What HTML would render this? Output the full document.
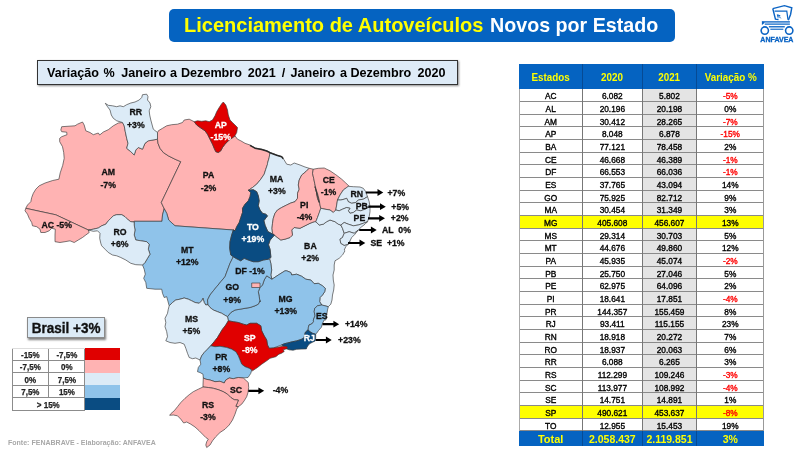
<!DOCTYPE html>
<html><head><meta charset="utf-8">
<style>
html,body{margin:0;padding:0;}
body{width:800px;height:450px;background:#fff;position:relative;overflow:hidden;font-family:"Liberation Sans",sans-serif;color:#000;}
.abs{position:absolute;}
#title{left:169px;top:9px;width:506px;height:33px;background:#0563c1;border-radius:5px;color:#fff;font-weight:bold;font-size:20.6px;line-height:32px;white-space:nowrap;}
#title span{position:absolute;left:14.3px;top:0;transform-origin:0 50%;transform:scaleX(0.966);}
#title b{color:#ffff00;}
#sub{left:37px;top:60px;width:419px;height:23px;background:#deebf7;border:1px solid #333;box-shadow:1px 1px 2px rgba(0,0,0,.45);font-weight:bold;font-size:12.6px;line-height:25px;white-space:pre;}
#sub span{position:absolute;top:0;}
#thead{left:519px;top:64px;width:245px;height:25.3px;background:#0563c1;}
#thead span{position:absolute;top:0;height:25.3px;line-height:26px;text-align:center;color:#ffff00;font-weight:bold;font-size:10.6px;transform:scaleX(0.93);}
.c1{left:0;width:63.4px;}
.c2{left:63.4px;width:59.9px;}
.c3{left:123.3px;width:54.3px;}
.c4{left:177.6px;width:67.4px;}
.r{position:absolute;left:519px;width:245px;height:12.67px;font-size:8.3px;}
.r span{position:absolute;top:0;height:100%;text-align:center;box-sizing:border-box;border-bottom:1px solid #8a8a8a;-webkit-text-stroke:0.35px currentColor;}
.r .c3{background:#e4e4e4;}
.r.hl span{background:#ffff00;}
.neg{color:#ff0000;}
.vl{position:absolute;width:1px;background:#777;top:89px;height:342px;}
.vb{position:absolute;width:1px;background:#064a94;}
#tot{left:519px;top:431.3px;width:245px;height:14.7px;background:#0563c1;}
#tot span{position:absolute;top:0;height:14.7px;line-height:16.2px;text-align:center;color:#ffff00;font-weight:bold;font-size:10.5px;}
#tot .c1{font-size:11px;}
#src{left:8.3px;top:437.8px;font-size:7.6px;line-height:9px;font-weight:bold;color:#a8a8a8;white-space:nowrap;transform-origin:0 0;transform:scaleX(0.925);}

#bra{left:27px;top:316.5px;width:76px;height:19px;background:#dcebf7;border:1px solid #8a8a8a;box-shadow:1px 1.5px 2px rgba(0,0,0,.5);font-weight:bold;font-size:14.6px;line-height:20.6px;text-align:center;white-space:nowrap;color:#111;}
#bra span{display:inline-block;transform:scaleX(0.925);-webkit-text-stroke:0.35px #111;}
#leg{left:12px;top:347.5px;width:108.3px;height:62.5px;}
#leg .t{position:absolute;height:12.5px;font-weight:bold;font-size:9px;line-height:14px;text-align:center;color:#222;transform:scaleX(0.89);-webkit-text-stroke:0.25px #222;}
#leg .s{position:absolute;left:72.5px;width:35.8px;height:12.5px;}
#leg i{position:absolute;background:#8c8c8c;}
</style></head><body><div id="wrap" style="position:absolute;left:0;top:0;width:800px;height:450px;will-change:transform;">
<div id="title" class="abs"><span style="left:15px;transform:scaleX(0.9715);color:#ffff00">Licenciamento de Autoveículos</span><span style="left:321.3px;transform:scaleX(0.955)">Novos por Estado</span></div>
<div id="sub" class="abs"><span style="left:9.1px">Variação</span><span style="left:65.5px">%</span><span style="left:83.3px">Janeiro</span><span style="left:132.0px">a</span><span style="left:143.0px">Dezembro</span><span style="left:209.8px">2021</span><span style="left:243.7px">/</span><span style="left:252.5px">Janeiro</span><span style="left:302.0px">a</span><span style="left:312.4px">Dezembro</span><span style="left:379.5px">2020</span></div>
<svg class="abs" style="left:0;top:0" width="800" height="450" viewBox="0 0 800 450">
<g stroke="#383838" stroke-width="0.65" stroke-linejoin="round">
<path d="M61.7,126.7 75.0,125.8 77.5,124.2 82.5,122.0 84.2,125.0 85.8,130.8 90.0,132.5 93.3,134.7 98.3,133.0 99.7,135.0 103.3,132.0 108.3,129.7 113.3,125.8 118.3,123.0 122.5,122.5 124.2,125.8 125.3,131.7 126.7,138.3 128.0,143.3 126.7,148.3 130.8,151.7 134.2,155.0 135.8,150.0 138.3,147.5 142.5,149.2 145.0,143.3 148.3,140.8 157.5,139.2 157.5,139.2 158.0,143.3 160.0,148.3 163.3,152.5 168.3,155.8 175.0,159.2 180.8,161.7 161.3,202.5 164.2,208.7 162.5,215.0 162.0,221.3 134.2,221.3 134.2,222.0 130.8,221.7 128.3,220.0 125.0,216.7 121.7,214.7 116.7,214.7 113.3,215.8 110.8,218.3 108.3,220.8 105.8,224.2 101.7,225.8 98.3,228.0 93.3,229.2 88.3,230.0 72.0,222.4 55.8,214.8 40.0,211.4 25.8,208.3 27.5,205.0 30.8,201.7 31.7,197.5 33.3,193.3 35.8,189.2 39.2,185.8 45.1,183.0 52.7,180.5 58.9,179.2 60.2,172.9 62.7,165.4 64.2,158.3 63.7,152.5 62.5,146.7 59.7,141.7 59.7,138.3 61.7,136.7 67.0,134.7 66.7,132.2 61.7,131.7 60.8,130.0Z" fill="#ffb3b3"/>
<path d="M157.5,132.5 158.3,130.8 162.5,128.3 166.7,125.8 171.7,124.7 177.5,124.2 182.5,122.5 184.2,120.0 189.2,119.2 194.2,121.7 196.7,125.0 200.8,128.0 205.0,130.8 207.5,134.2 210.0,139.2 212.5,144.2 214.2,148.3 215.8,151.7 218.3,152.5 220.8,150.8 222.5,147.5 225.0,144.2 228.3,140.8 231.7,138.3 235.0,135.8 237.5,139.2 240.8,140.8 245.0,143.3 250.0,145.0 255.0,148.0 261.7,149.2 266.7,150.8 270.0,152.5 269.2,157.5 267.5,163.3 267.5,164.2 265.8,169.2 264.2,174.2 260.8,179.2 256.7,184.2 252.5,187.5 248.3,190.3 250.8,192.5 250.0,196.7 248.3,200.8 245.0,204.2 242.5,208.3 242.5,212.5 240.8,217.5 239.2,222.5 236.7,226.7 235.0,230.8 233.3,230.0 175.0,225.8 168.7,220.0 166.7,213.3 164.2,208.7 161.3,202.5 180.8,161.7 175.0,159.2 168.3,155.8 163.3,152.5 160.0,148.3 158.0,143.3 157.5,139.2Z" fill="#ffb3b3"/>
<path d="M164.2,208.7 166.7,213.3 168.7,220.0 175.0,225.8 233.3,230.0 235.0,230.8 233.3,230.0 231.7,235.0 230.0,241.7 229.7,248.3 230.8,255.0 233.3,256.7 230.0,263.3 227.5,270.0 225.0,276.7 220.8,281.7 216.7,286.7 213.3,290.8 210.0,295.0 207.5,300.0 208.0,304.7 205.8,305.0 204.2,302.5 203.0,298.3 201.7,300.8 199.2,303.3 195.0,302.5 191.7,300.8 188.3,299.2 184.2,298.0 180.0,299.2 175.8,300.0 172.5,302.5 169.2,305.8 166.7,296.7 164.2,297.5 162.5,293.3 161.7,289.2 155.0,289.2 146.7,288.3 145.8,282.5 143.7,278.3 145.3,274.2 144.2,269.2 142.5,265.0 145.0,262.5 147.5,258.3 150.0,254.2 148.3,249.2 149.2,244.2 146.7,241.7 140.8,240.8 135.8,240.0 134.2,235.0 135.0,230.0 134.2,225.0 134.2,221.3 162.0,221.3 162.5,215.0Z" fill="#8fc3ea"/>
<path d="M274.5,235.1 277.1,237.3 280.8,240.0 285.0,239.2 290.0,237.5 292.5,235.0 291.7,230.0 294.2,227.5 300.0,228.3 305.0,225.8 310.0,223.3 314.2,221.7 315.8,221.7 319.2,225.0 323.3,224.2 326.7,221.7 330.0,220.0 335.0,221.7 338.3,224.2 340.8,225.0 342.5,228.3 344.2,233.3 342.5,237.5 340.0,239.2 340.8,243.3 344.2,245.3 348.3,244.2 350.0,240.8 348.3,244.2 345.8,246.7 344.2,250.0 345.0,250.8 342.5,255.0 339.2,258.3 335.0,260.8 334.2,265.0 334.2,270.0 333.0,275.0 333.3,280.0 334.2,285.0 333.7,290.0 332.5,295.0 332.0,300.0 330.8,304.2 328.3,306.7 325.0,305.8 321.7,305.0 319.7,301.7 320.0,297.5 322.5,295.0 324.7,291.7 325.3,288.3 322.5,285.8 318.3,283.3 314.2,283.7 310.8,280.0 305.8,279.2 301.7,276.3 296.7,274.2 291.7,275.0 290.8,272.5 286.7,270.8 285.0,270.8 278.3,275.0 272.0,279.2 270.8,275.0 271.7,270.0 270.8,263.3 269.7,259.2 270.9,257.2 270.1,249.4 268.5,244.8 270.1,240.1Z" fill="#dcebf7"/>
<path d="M272.0,279.2 278.3,275.0 285.0,270.8 286.7,270.8 290.8,272.5 291.7,275.0 296.7,274.2 301.7,276.3 305.8,279.2 310.8,280.0 314.2,283.7 318.3,283.3 322.5,285.8 325.3,288.3 324.7,291.7 322.5,295.0 320.0,297.5 319.7,301.7 321.7,305.0 317.5,305.8 314.7,308.3 314.2,311.7 315.0,315.8 313.3,320.0 313.5,321.8 311.7,324.0 309.1,324.9 308.4,327.1 308.2,329.8 305.5,332.0 304.6,334.7 304.2,337.8 301.1,339.5 296.6,340.9 292.2,341.8 287.8,342.9 284.2,343.8 281.5,345.0 273.3,348.0 269.2,348.3 267.5,345.0 266.7,340.0 264.2,335.8 261.7,330.8 260.8,325.8 256.7,323.3 250.0,323.3 246.7,325.0 243.3,324.2 238.3,322.5 233.3,321.7 228.3,320.8 227.5,316.7 230.8,312.5 235.0,310.0 240.0,309.2 245.0,308.3 250.0,307.5 255.0,305.8 258.3,304.2 260.0,300.8 260.0,301.7 259.2,296.7 258.3,291.7 260.0,287.5 262.5,285.0 264.2,280.0 266.7,275.8Z" fill="#8fc3ea"/>
<path d="M233.3,256.7 235.8,258.3 240.8,260.8 244.2,258.3 248.3,260.0 253.3,261.7 258.3,261.7 263.3,260.0 268.3,259.2 269.7,259.2 270.8,263.3 271.7,270.0 270.8,275.0 272.0,279.2 266.7,275.8 264.2,280.0 262.5,285.0 260.0,287.5 258.3,291.7 259.2,296.7 260.0,301.7 260.0,300.8 258.3,304.2 255.0,305.8 250.0,307.5 245.0,308.3 240.0,309.2 235.0,310.0 230.8,312.5 227.5,316.7 225.0,315.3 221.7,313.3 217.5,311.7 213.3,310.0 210.0,307.5 208.0,304.7 207.5,300.0 210.0,295.0 213.3,290.8 216.7,286.7 220.8,281.7 225.0,276.7 227.5,270.0 230.0,263.3Z" fill="#8fc3ea"/>
<path d="M169.2,305.8 172.5,302.5 175.8,300.0 180.0,299.2 184.2,298.0 188.3,299.2 191.7,300.8 195.0,302.5 199.2,303.3 201.7,300.8 203.0,298.3 204.2,302.5 205.8,305.0 208.0,304.7 210.0,307.5 213.3,310.0 217.5,311.7 221.7,313.3 225.0,315.3 227.5,316.7 228.3,320.8 225.8,325.0 222.5,329.2 220.0,333.3 217.5,337.5 214.2,341.7 207.5,349.2 204.2,352.5 201.7,355.8 200.0,360.0 195.8,358.0 192.5,358.7 189.2,357.5 187.5,353.3 185.8,348.3 184.2,344.2 180.0,342.5 175.0,343.3 170.0,342.5 165.8,340.8 167.5,336.7 166.7,331.7 165.0,326.7 165.8,322.5 165.0,318.3 167.5,313.3 168.3,309.2Z" fill="#dcebf7"/>
<path d="M105.3,103.3 108.3,105.3 112.5,105.8 116.7,106.7 120.0,105.8 123.3,106.7 126.7,104.7 130.8,103.0 135.0,102.0 139.2,100.0 141.7,97.5 142.5,94.7 146.7,94.2 148.0,96.7 147.5,100.0 150.0,103.0 150.8,106.7 149.2,110.8 149.7,115.0 150.8,120.0 153.3,129.2 157.5,132.5 157.5,139.2 148.3,140.8 145.0,143.3 142.5,149.2 138.3,147.5 135.8,150.0 134.2,155.0 130.8,151.7 126.7,148.3 128.0,143.3 126.7,138.3 125.3,131.7 124.2,125.8 122.5,122.5 116.7,120.8 113.3,118.3 111.3,115.0 110.0,110.0 107.5,106.7Z" fill="#dcebf7"/>
<path d="M25.8,208.3 40.0,211.4 55.8,214.8 72.0,222.4 88.3,230.0 89.2,232.5 85.8,235.0 82.5,237.5 78.3,240.0 74.2,242.5 70.0,240.8 65.0,241.7 60.0,242.5 55.0,241.7 55.0,235.0 55.3,229.2 51.7,228.3 49.2,230.8 45.0,232.5 40.8,232.5 40.0,229.2 36.7,226.7 32.5,225.8 31.7,222.5 29.2,218.3 27.5,214.2 25.0,210.8Z" fill="#ffb3b3"/>
<path d="M88.3,230.0 93.3,229.2 98.3,228.0 101.7,225.8 105.8,224.2 108.3,220.8 110.8,218.3 113.3,215.8 116.7,214.7 121.7,214.7 125.0,216.7 128.3,220.0 130.8,221.7 134.2,222.0 134.2,225.0 135.0,230.0 134.2,235.0 135.8,240.0 140.8,240.8 146.7,241.7 149.2,244.2 148.3,249.2 150.0,254.2 147.5,258.3 145.0,262.5 142.5,265.0 135.8,264.7 130.8,263.3 125.8,260.0 120.8,257.5 116.7,255.8 112.5,255.0 108.3,252.5 105.0,249.2 101.7,245.8 100.8,243.3 99.7,238.3 100.0,233.3 97.5,230.8 93.3,231.3Z" fill="#dcebf7"/>
<path d="M223.3,102.0 225.8,105.0 227.5,110.0 228.3,115.0 230.0,120.0 232.5,122.5 235.0,125.0 237.5,127.5 236.7,132.5 235.0,135.8 231.7,138.3 228.3,140.8 225.0,144.2 222.5,147.5 220.8,150.8 218.3,152.5 215.8,151.7 214.2,148.3 212.5,144.2 210.0,139.2 207.5,134.2 205.0,130.8 200.8,128.0 196.7,125.0 194.2,121.7 197.5,120.8 201.7,121.3 205.8,120.8 209.2,121.7 212.5,120.0 215.0,115.8 216.7,111.7 219.2,107.5 221.7,103.7Z" fill="#e00000"/>
<path d="M270.0,152.5 276.7,155.0 281.7,156.7 284.2,160.0 286.7,164.2 290.8,165.0 294.2,163.0 300.0,165.0 305.0,167.0 309.2,168.3 305.8,171.7 301.7,175.0 299.2,180.0 298.3,185.0 299.2,189.2 297.5,193.3 297.5,198.3 295.0,201.7 290.8,203.0 286.7,205.0 281.7,207.5 277.5,210.0 275.0,213.3 273.3,218.3 272.5,223.3 272.0,228.3 272.5,233.3 274.5,235.1 274.5,235.1 267.8,231.5 265.1,225.3 263.9,220.7 267.5,215.8 265.8,214.2 262.5,213.3 260.0,210.0 258.3,205.8 259.2,200.8 258.3,195.8 256.7,191.7 253.3,189.7 248.3,190.3 252.5,187.5 256.7,184.2 260.8,179.2 264.2,174.2 265.8,169.2 267.5,164.2 267.5,163.3 269.2,157.5Z" fill="#dcebf7"/>
<path d="M309.2,168.3 313.3,169.2 312.5,173.3 313.7,178.3 314.7,183.3 315.8,188.3 316.7,193.3 317.5,198.3 319.2,202.5 315.0,186.7 317.5,193.3 319.2,200.0 320.0,205.0 320.8,208.3 319.2,213.3 317.5,217.5 315.8,221.7 314.2,221.7 310.0,223.3 305.0,225.8 300.0,228.3 294.2,227.5 291.7,230.0 292.5,235.0 290.0,237.5 285.0,239.2 280.8,240.0 277.1,237.3 274.5,235.1 272.5,233.3 272.0,228.3 272.5,223.3 273.3,218.3 275.0,213.3 277.5,210.0 281.7,207.5 286.7,205.0 290.8,203.0 295.0,201.7 297.5,198.3 297.5,193.3 299.2,189.2 298.3,185.0 299.2,180.0 301.7,175.0 305.8,171.7Z" fill="#ffb3b3"/>
<path d="M313.3,169.2 318.3,168.3 324.2,168.0 330.0,170.8 335.8,174.7 341.7,179.2 345.8,183.0 349.2,186.3 346.7,187.5 343.3,190.0 340.0,195.0 337.5,200.0 336.7,205.0 335.8,210.0 333.3,212.5 330.0,210.0 325.0,209.2 320.8,208.3 320.0,205.0 319.2,200.0 317.5,193.3 315.0,186.7 319.2,202.5 317.5,198.3 316.7,193.3 315.8,188.3 314.7,183.3 313.7,178.3 312.5,173.3Z" fill="#ffb3b3"/>
<path d="M348.3,186.3 353.3,186.7 360.0,187.0 363.3,188.3 365.8,191.7 367.5,196.7 363.3,199.2 358.3,200.0 355.8,202.5 351.7,203.3 348.3,201.7 346.7,198.3 344.2,199.2 340.8,200.0 337.5,200.0 340.0,195.0 343.3,190.0 346.7,187.5Z" fill="#dcebf7"/>
<path d="M367.5,196.7 369.2,201.7 370.0,206.7 365.0,209.2 360.8,210.8 356.7,210.0 353.3,212.5 350.0,213.3 348.3,210.8 350.0,208.3 346.7,207.5 342.5,209.2 339.2,210.8 335.8,210.0 336.7,205.0 337.5,200.0 340.8,200.0 344.2,199.2 346.7,198.3 348.3,201.7 351.7,203.3 355.8,202.5 358.3,200.0 363.3,199.2Z" fill="#dcebf7"/>
<path d="M370.0,206.7 370.0,211.7 369.2,216.7 367.5,221.7 363.3,223.3 358.3,225.0 353.3,225.8 348.3,224.2 344.2,222.5 340.8,225.0 338.3,224.2 335.0,221.7 330.0,220.0 326.7,221.7 323.3,224.2 319.2,225.0 315.8,221.7 315.8,221.7 317.5,217.5 320.8,208.3 325.0,209.2 330.0,210.0 333.3,212.5 335.8,210.0 339.2,210.8 342.5,209.2 346.7,207.5 350.0,208.3 348.3,210.8 350.0,213.3 353.3,212.5 356.7,210.0 360.8,210.8 365.0,209.2Z" fill="#dcebf7"/>
<path d="M367.5,221.7 365.0,224.2 361.7,226.7 358.3,230.0 354.2,233.3 349.2,231.7 344.2,233.3 342.5,228.3 340.8,225.0 344.2,222.5 348.3,224.2 353.3,225.8 358.3,225.0 363.3,223.3Z" fill="#dcebf7"/>
<path d="M358.3,230.0 355.0,234.2 351.7,237.5 350.0,240.8 348.3,244.2 344.2,245.3 340.8,243.3 340.0,239.2 342.5,237.5 344.2,233.3 349.2,231.7 354.2,233.3Z" fill="#dcebf7"/>
<path d="M248.3,190.3 253.3,189.7 256.7,191.7 258.3,195.8 259.2,200.8 258.3,205.8 260.0,210.0 262.5,213.3 265.8,214.2 267.5,215.8 263.9,220.7 265.1,225.3 267.8,231.5 274.5,235.1 270.1,240.1 268.5,244.8 270.1,249.4 270.9,257.2 268.3,259.2 263.3,260.0 258.3,261.7 253.3,261.7 248.3,260.0 244.2,258.3 240.8,260.8 235.8,258.3 233.3,256.7 230.8,255.0 229.7,248.3 230.0,241.7 231.7,235.0 233.3,230.0 235.0,230.8 236.7,226.7 239.2,222.5 240.8,217.5 242.5,212.5 242.5,208.3 245.0,204.2 248.3,200.8 250.0,196.7 250.8,192.5Z" fill="#0a4c82"/>
<path d="M321.7,305.0 325.0,305.8 328.3,306.7 327.5,310.0 326.7,315.0 325.8,320.0 324.2,320.0 322.4,323.6 321.5,327.1 318.4,330.7 316.6,333.3 315.7,334.2 312.6,333.3 309.5,331.5 308.2,329.8 308.4,327.1 309.1,324.9 311.7,324.0 313.5,321.8 313.3,320.0 315.0,315.8 314.2,311.7 314.7,308.3 317.5,305.8Z" fill="#8fc3ea"/>
<path d="M308.2,329.8 309.5,331.5 312.6,333.3 315.7,334.2 315.7,337.8 315.3,340.9 312.6,342.2 310.0,343.5 308.2,345.3 306.9,347.5 306.4,348.9 301.1,349.1 296.6,349.3 293.1,350.2 289.1,349.8 286.9,348.9 287.3,347.4 286.9,346.6 283.3,346.2 281.5,345.0 284.2,343.8 287.8,342.9 292.2,341.8 296.6,340.9 301.1,339.5 304.2,337.8 304.6,334.7 305.5,332.0Z" fill="#0a4c82"/>
<path d="M228.3,320.8 233.3,321.7 238.3,322.5 243.3,324.2 246.7,325.0 250.0,323.3 256.7,323.3 260.8,325.8 261.7,330.8 264.2,335.8 266.7,340.0 267.5,345.0 269.2,348.3 273.3,348.0 283.3,346.2 286.9,346.6 287.3,347.4 286.9,348.9 286.0,348.9 283.3,349.8 284.2,351.5 281.5,353.3 278.9,354.2 276.2,356.4 275.8,356.7 270.0,358.3 266.7,360.8 261.7,364.2 257.5,367.5 252.5,370.8 251.7,370.0 249.2,368.3 245.0,366.7 241.7,364.2 240.0,360.0 238.3,355.8 235.8,351.7 231.7,349.2 226.7,347.5 220.0,346.3 215.0,346.7 210.8,345.8 214.2,341.7 217.5,337.5 220.0,333.3 222.5,329.2 225.8,325.0Z" fill="#e00000"/>
<path d="M210.8,345.8 215.0,346.7 220.0,346.3 226.7,347.5 231.7,349.2 235.8,351.7 238.3,355.8 240.0,360.0 241.7,364.2 245.0,366.7 249.2,368.3 251.7,370.0 250.8,373.3 249.2,375.8 248.0,377.5 243.3,378.0 238.3,377.5 233.3,378.7 229.2,378.0 225.8,380.0 224.2,383.0 220.0,381.3 215.0,381.7 210.0,380.0 205.8,379.2 203.3,378.0 203.0,374.2 200.0,372.5 197.5,371.7 198.3,367.5 200.8,364.2 200.0,360.0 201.7,355.8 204.2,352.5 207.5,349.2Z" fill="#8fc3ea"/>
<path d="M203.3,378.0 205.8,379.2 210.0,380.0 215.0,381.7 220.0,381.3 224.2,383.0 225.8,380.0 229.2,378.0 233.3,378.7 238.3,377.5 243.3,378.0 248.3,382.5 248.7,387.5 248.0,392.5 246.7,396.7 244.2,400.8 241.7,404.2 238.3,406.7 235.8,406.3 237.5,402.5 238.3,400.0 234.2,399.7 230.8,397.5 227.5,394.2 223.3,391.7 218.3,389.7 213.3,388.3 208.3,387.5 203.0,387.0 203.0,385.0Z" fill="#ffb3b3"/>
<path d="M203.0,387.0 198.3,389.2 193.3,391.7 189.2,394.7 185.0,398.3 180.8,402.5 177.5,406.7 174.2,410.8 170.8,413.7 169.7,415.3 173.3,415.0 177.5,415.8 180.8,419.2 183.7,423.0 186.7,422.0 190.8,424.2 195.0,427.0 199.2,430.8 202.5,434.2 205.8,437.5 208.3,439.2 206.7,441.7 205.8,445.0 206.7,447.5 210.0,445.0 212.5,440.8 215.8,436.7 220.0,432.5 225.0,429.2 229.2,425.0 232.5,420.0 235.0,414.2 236.7,409.2 238.3,406.7 235.8,406.3 237.5,402.5 238.3,400.0 234.2,399.7 230.8,397.5 227.5,394.2 223.3,391.7 218.3,389.7 213.3,388.3 208.3,387.5Z" fill="#ffb3b3"/>
<path d="M251.7,283.0 260.0,283.0 260.0,287.5 251.7,287.5Z" fill="#ffb3b3"/>
<path d="M250.0,145.3 255.0,148.2 261.7,149.5 266.7,151.0 270.0,152.7 270.0,152.7 276.7,155.2 281.7,156.8 283.3,158.7" fill="none" stroke="#2a2a2a" stroke-width="1.5"/>
</g>
<g font-family="Liberation Sans, sans-serif" font-weight="bold" font-size="9" text-anchor="middle" stroke="none">
<text transform="translate(135.8,115.3) scale(0.97,1)" fill="#111" stroke="#111" stroke-width="0.3" xml:space="preserve">RR</text>
<text transform="translate(135.8,128) scale(0.97,1)" fill="#111" stroke="#111" stroke-width="0.3" xml:space="preserve">+3%</text>
<text transform="translate(220.8,127.5) scale(0.97,1)" fill="#fff" stroke="#fff" stroke-width="0.3" xml:space="preserve">AP</text>
<text transform="translate(220.8,139.7) scale(0.97,1)" fill="#fff" stroke="#fff" stroke-width="0.3" xml:space="preserve">-15%</text>
<text transform="translate(208.5,178.3) scale(0.97,1)" fill="#111" stroke="#111" stroke-width="0.3" xml:space="preserve">PA</text>
<text transform="translate(208.6,190.5) scale(0.97,1)" fill="#111" stroke="#111" stroke-width="0.3" xml:space="preserve">-2%</text>
<text transform="translate(276.5,181.7) scale(0.97,1)" fill="#111" stroke="#111" stroke-width="0.3" xml:space="preserve">MA</text>
<text transform="translate(276.8,193.8) scale(0.97,1)" fill="#111" stroke="#111" stroke-width="0.3" xml:space="preserve">+3%</text>
<text transform="translate(252.9,229.7) scale(0.97,1)" fill="#fff" stroke="#fff" stroke-width="0.3" xml:space="preserve">TO</text>
<text transform="translate(252.9,241.7) scale(0.97,1)" fill="#fff" stroke="#fff" stroke-width="0.3" xml:space="preserve">+19%</text>
<text transform="translate(304.2,208.3) scale(0.97,1)" fill="#111" stroke="#111" stroke-width="0.3" xml:space="preserve">PI</text>
<text transform="translate(304.4,220.3) scale(0.97,1)" fill="#111" stroke="#111" stroke-width="0.3" xml:space="preserve">-4%</text>
<text transform="translate(328.7,183) scale(0.97,1)" fill="#111" stroke="#111" stroke-width="0.3" xml:space="preserve">CE</text>
<text transform="translate(328.6,195) scale(0.97,1)" fill="#111" stroke="#111" stroke-width="0.3" xml:space="preserve">-1%</text>
<text transform="translate(356.7,196.7) scale(0.97,1)" fill="#111" stroke="#111" stroke-width="0.3" xml:space="preserve">RN</text>
<text transform="translate(361.8,209.2) scale(0.97,1)" fill="#111" stroke="#111" stroke-width="0.3" xml:space="preserve">PB</text>
<text transform="translate(359.4,221.3) scale(0.97,1)" fill="#111" stroke="#111" stroke-width="0.3" xml:space="preserve">PE</text>
<text transform="translate(310.4,248.7) scale(0.97,1)" fill="#111" stroke="#111" stroke-width="0.3" xml:space="preserve">BA</text>
<text transform="translate(310.2,260.8) scale(0.97,1)" fill="#111" stroke="#111" stroke-width="0.3" xml:space="preserve">+2%</text>
<text transform="translate(285.6,302) scale(0.97,1)" fill="#111" stroke="#111" stroke-width="0.3" xml:space="preserve">MG</text>
<text transform="translate(285.8,313.7) scale(0.97,1)" fill="#111" stroke="#111" stroke-width="0.3" xml:space="preserve">+13%</text>
<text transform="translate(250,273.7) scale(0.97,1)" fill="#111" stroke="#111" stroke-width="0.3" xml:space="preserve">DF -1%</text>
<text transform="translate(232.2,290.3) scale(0.97,1)" fill="#111" stroke="#111" stroke-width="0.3" xml:space="preserve">GO</text>
<text transform="translate(232.2,302.5) scale(0.97,1)" fill="#111" stroke="#111" stroke-width="0.3" xml:space="preserve">+9%</text>
<text transform="translate(321.8,319.2) scale(0.97,1)" fill="#111" stroke="#111" stroke-width="0.3" xml:space="preserve">ES</text>
<text transform="translate(309.3,341.3) scale(0.97,1)" fill="#fff" stroke="#fff" stroke-width="0.3" xml:space="preserve">RJ</text>
<text transform="translate(249.7,341.3) scale(0.97,1)" fill="#fff" stroke="#fff" stroke-width="0.3" xml:space="preserve">SP</text>
<text transform="translate(249.8,353) scale(0.97,1)" fill="#fff" stroke="#fff" stroke-width="0.3" xml:space="preserve">-8%</text>
<text transform="translate(191.5,322) scale(0.97,1)" fill="#111" stroke="#111" stroke-width="0.3" xml:space="preserve">MS</text>
<text transform="translate(191.3,334.2) scale(0.97,1)" fill="#111" stroke="#111" stroke-width="0.3" xml:space="preserve">+5%</text>
<text transform="translate(120,235) scale(0.97,1)" fill="#111" stroke="#111" stroke-width="0.3" xml:space="preserve">RO</text>
<text transform="translate(119.7,246.7) scale(0.97,1)" fill="#111" stroke="#111" stroke-width="0.3" xml:space="preserve">+6%</text>
<text transform="translate(187.2,252.8) scale(0.97,1)" fill="#111" stroke="#111" stroke-width="0.3" xml:space="preserve">MT</text>
<text transform="translate(187.2,265) scale(0.97,1)" fill="#111" stroke="#111" stroke-width="0.3" xml:space="preserve">+12%</text>
<text transform="translate(56.7,228.3) scale(0.97,1)" fill="#111" stroke="#111" stroke-width="0.3" xml:space="preserve">AC -5%</text>
<text transform="translate(108.2,175.4) scale(0.97,1)" fill="#111" stroke="#111" stroke-width="0.3" xml:space="preserve">AM</text>
<text transform="translate(108.2,188) scale(0.97,1)" fill="#111" stroke="#111" stroke-width="0.3" xml:space="preserve">-7%</text>
<text transform="translate(221.2,360) scale(0.97,1)" fill="#111" stroke="#111" stroke-width="0.3" xml:space="preserve">PR</text>
<text transform="translate(221.3,372) scale(0.97,1)" fill="#111" stroke="#111" stroke-width="0.3" xml:space="preserve">+8%</text>
<text transform="translate(236,393) scale(0.97,1)" fill="#111" stroke="#111" stroke-width="0.3" xml:space="preserve">SC</text>
<text transform="translate(208,407.5) scale(0.97,1)" fill="#111" stroke="#111" stroke-width="0.3" xml:space="preserve">RS</text>
<text transform="translate(207.9,419.7) scale(0.97,1)" fill="#111" stroke="#111" stroke-width="0.3" xml:space="preserve">-3%</text>
<text transform="translate(396.3,195.8) scale(0.97,1)" fill="#111" stroke="#111" stroke-width="0.3" xml:space="preserve">+7%</text>
<text transform="translate(400.2,209.7) scale(0.97,1)" fill="#111" stroke="#111" stroke-width="0.3" xml:space="preserve">+5%</text>
<text transform="translate(399.7,221.3) scale(0.97,1)" fill="#111" stroke="#111" stroke-width="0.3" xml:space="preserve">+2%</text>
<text transform="translate(396.5,233.3) scale(0.97,1)" fill="#111" stroke="#111" stroke-width="0.3" xml:space="preserve">AL  0%</text>
<text transform="translate(387.5,246.2) scale(0.97,1)" fill="#111" stroke="#111" stroke-width="0.3" xml:space="preserve">SE  +1%</text>
<text transform="translate(356.2,327) scale(0.97,1)" fill="#111" stroke="#111" stroke-width="0.3" xml:space="preserve">+14%</text>
<text transform="translate(349.4,343) scale(0.97,1)" fill="#111" stroke="#111" stroke-width="0.3" xml:space="preserve">+23%</text>
<text transform="translate(280.4,393.3) scale(0.97,1)" fill="#111" stroke="#111" stroke-width="0.3" xml:space="preserve">-4%</text>
</g>
<g fill="#000" stroke="none">
<path d="M365.8,191.4H377.5V189.1L383.3,192.5L377.5,195.9V193.6H365.8Z"/>
<path d="M368.3,205.6H380.0V203.29999999999998L385.8,206.7L380.0,210.1V207.79999999999998H368.3Z"/>
<path d="M368,217.20000000000002H379.2V214.9L385,218.3L379.2,221.70000000000002V219.4H368Z"/>
<path d="M359.2,228.9H370.9V226.6L376.7,230L370.9,233.4V231.1H359.2Z"/>
<path d="M348,241.9H359.5V239.6L365.3,243L359.5,246.4V244.1H348Z"/>
<path d="M322.5,323.09999999999997H333.4V320.8L339.2,324.2L333.4,327.59999999999997V325.3H322.5Z"/>
<path d="M315.8,338.9H325.9V336.6L331.7,340L325.9,343.4V341.1H315.8Z"/>
<path d="M248.3,389.7H258.4V387.40000000000003L264.2,390.8L258.4,394.2V391.90000000000003H248.3Z"/>
</g>
</svg>
<div id="bra" class="abs"><span>Brasil +3%</span></div>
<div id="leg" class="abs"><div class="t" style="left:0;top:0.0px;width:36.7px">-15%</div><div class="t" style="left:36.7px;top:0.0px;width:35.8px">-7,5%</div><div class="s" style="top:0.0px;background:#e00000"></div><div class="t" style="left:0;top:12.5px;width:36.7px">-7,5%</div><div class="t" style="left:36.7px;top:12.5px;width:35.8px">0%</div><div class="s" style="top:12.5px;background:#ffb3b3"></div><div class="t" style="left:0;top:25.0px;width:36.7px">0%</div><div class="t" style="left:36.7px;top:25.0px;width:35.8px">7,5%</div><div class="s" style="top:25.0px;background:#dcebf7"></div><div class="t" style="left:0;top:37.5px;width:36.7px">7,5%</div><div class="t" style="left:36.7px;top:37.5px;width:35.8px">15%</div><div class="s" style="top:37.5px;background:#8fc3ea"></div><div class="t" style="left:0;top:50px;width:72.5px">&gt; 15%</div><div class="s" style="top:50px;background:#0a4c82"></div><i style="left:0;top:0;width:1px;height:62.5px"></i><i style="left:36.2px;top:0;width:1px;height:50px"></i><i style="left:72px;top:0;width:1px;height:62.5px"></i><i style="left:0;top:12.0px;width:72.5px;height:1px"></i><i style="left:0;top:24.5px;width:72.5px;height:1px"></i><i style="left:0;top:37.0px;width:72.5px;height:1px"></i><i style="left:0;top:49.5px;width:72.5px;height:1px"></i><i style="left:0;top:62.0px;width:72.5px;height:1px"></i><i style="left:0;top:0;width:72.5px;height:1px;background:#ddd"></i></div>
<svg class="abs" style="left:745px;top:0" width="55" height="50" viewBox="0 0 495 450">
<g fill="none" stroke="#0b64c4" stroke-linejoin="miter">
<path d="M250,78 L355,51 L421,70 L410,130 L390,182" stroke-width="13"/>
<path d="M250,78 L274,172 L302,176" stroke-width="13"/>
<path d="M266,101 L376,101 L387,178" stroke-width="11"/>
<path d="M292,133 L322,165 M292,133 L298,160 M292,133 L318,142" stroke-width="9"/>
<path d="M160,197 H404" stroke-width="12"/>
<path d="M178,217 H404" stroke-width="11"/>
<path d="M215,241 H358" stroke-width="12"/>
<path d="M228,263 H345" stroke-width="10"/>
<circle cx="178" cy="275" r="33" stroke-width="14" fill="#fff"/>
<circle cx="398" cy="275" r="33" stroke-width="14" fill="#fff"/>
</g>
<path d="M152,186 L178,205 L152,226Z" fill="#0b64c4"/>
<text x="287" y="381" font-family="Liberation Sans, sans-serif" font-weight="bold" font-size="66" fill="#0b64c4" stroke="#0b64c4" stroke-width="3" text-anchor="middle" textLength="298" lengthAdjust="spacingAndGlyphs">ANFAVEA</text>
</svg>
<div id="thead" class="abs"><span class="c1">Estados</span><span class="c2">2020</span><span class="c3">2021</span><span class="c4">Variação %</span></div>
<div class="r" style="top:89px;height:13px;line-height:15.6px"><span class="c1">AC</span><span class="c2">6.082</span><span class="c3">5.802</span><span class="c4 neg">-5%</span></div>
<div class="r" style="top:102px;height:13px;line-height:15.6px"><span class="c1">AL</span><span class="c2">20.196</span><span class="c3">20.198</span><span class="c4">0%</span></div>
<div class="r" style="top:115px;height:12px;line-height:14.6px"><span class="c1">AM</span><span class="c2">30.412</span><span class="c3">28.265</span><span class="c4 neg">-7%</span></div>
<div class="r" style="top:127px;height:13px;line-height:15.6px"><span class="c1">AP</span><span class="c2">8.048</span><span class="c3">6.878</span><span class="c4 neg">-15%</span></div>
<div class="r" style="top:140px;height:13px;line-height:15.6px"><span class="c1">BA</span><span class="c2">77.121</span><span class="c3">78.458</span><span class="c4">2%</span></div>
<div class="r" style="top:153px;height:12px;line-height:14.6px"><span class="c1">CE</span><span class="c2">46.668</span><span class="c3">46.389</span><span class="c4 neg">-1%</span></div>
<div class="r" style="top:165px;height:13px;line-height:15.6px"><span class="c1">DF</span><span class="c2">66.553</span><span class="c3">66.036</span><span class="c4 neg">-1%</span></div>
<div class="r" style="top:178px;height:13px;line-height:15.6px"><span class="c1">ES</span><span class="c2">37.765</span><span class="c3">43.094</span><span class="c4">14%</span></div>
<div class="r" style="top:191px;height:12px;line-height:14.6px"><span class="c1">GO</span><span class="c2">75.925</span><span class="c3">82.712</span><span class="c4">9%</span></div>
<div class="r" style="top:203px;height:13px;line-height:15.6px"><span class="c1">MA</span><span class="c2">30.454</span><span class="c3">31.349</span><span class="c4">3%</span></div>
<div class="r hl" style="top:216px;height:13px;line-height:15.6px"><span class="c1">MG</span><span class="c2">405.608</span><span class="c3">456.607</span><span class="c4">13%</span></div>
<div class="r" style="top:229px;height:12px;line-height:14.6px"><span class="c1">MS</span><span class="c2">29.314</span><span class="c3">30.703</span><span class="c4">5%</span></div>
<div class="r" style="top:241px;height:13px;line-height:15.6px"><span class="c1">MT</span><span class="c2">44.676</span><span class="c3">49.860</span><span class="c4">12%</span></div>
<div class="r" style="top:254px;height:13px;line-height:15.6px"><span class="c1">PA</span><span class="c2">45.935</span><span class="c3">45.074</span><span class="c4 neg">-2%</span></div>
<div class="r" style="top:267px;height:12px;line-height:14.6px"><span class="c1">PB</span><span class="c2">25.750</span><span class="c3">27.046</span><span class="c4">5%</span></div>
<div class="r" style="top:279px;height:13px;line-height:15.6px"><span class="c1">PE</span><span class="c2">62.975</span><span class="c3">64.096</span><span class="c4">2%</span></div>
<div class="r" style="top:292px;height:13px;line-height:15.6px"><span class="c1">PI</span><span class="c2">18.641</span><span class="c3">17.851</span><span class="c4 neg">-4%</span></div>
<div class="r" style="top:305px;height:12px;line-height:14.6px"><span class="c1">PR</span><span class="c2">144.357</span><span class="c3">155.459</span><span class="c4">8%</span></div>
<div class="r" style="top:317px;height:13px;line-height:15.6px"><span class="c1">RJ</span><span class="c2">93.411</span><span class="c3">115.155</span><span class="c4">23%</span></div>
<div class="r" style="top:330px;height:13px;line-height:15.6px"><span class="c1">RN</span><span class="c2">18.918</span><span class="c3">20.272</span><span class="c4">7%</span></div>
<div class="r" style="top:343px;height:12px;line-height:14.6px"><span class="c1">RO</span><span class="c2">18.937</span><span class="c3">20.063</span><span class="c4">6%</span></div>
<div class="r" style="top:355px;height:13px;line-height:15.6px"><span class="c1">RR</span><span class="c2">6.088</span><span class="c3">6.265</span><span class="c4">3%</span></div>
<div class="r" style="top:368px;height:13px;line-height:15.6px"><span class="c1">RS</span><span class="c2">112.299</span><span class="c3">109.246</span><span class="c4 neg">-3%</span></div>
<div class="r" style="top:381px;height:12px;line-height:14.6px"><span class="c1">SC</span><span class="c2">113.977</span><span class="c3">108.992</span><span class="c4 neg">-4%</span></div>
<div class="r" style="top:393px;height:13px;line-height:15.6px"><span class="c1">SE</span><span class="c2">14.751</span><span class="c3">14.891</span><span class="c4">1%</span></div>
<div class="r hl" style="top:406px;height:13px;line-height:15.6px"><span class="c1">SP</span><span class="c2">490.621</span><span class="c3">453.637</span><span class="c4 neg">-8%</span></div>
<div class="r" style="top:419px;height:12px;line-height:14.6px"><span class="c1">TO</span><span class="c2">12.955</span><span class="c3">15.453</span><span class="c4">19%</span></div>
<div id="tot" class="abs"><span class="c1">Total</span><span class="c2">2.058.437</span><span class="c3">2.119.851</span><span class="c4">3%</span></div>
<div class="vl" style="left:519px;background:#aaa"></div><div class="vl" style="left:582px"></div><div class="vl" style="left:642px"></div><div class="vl" style="left:696px"></div><div class="vl" style="left:763px;background:#999"></div>
<div class="vb" style="left:582px;top:64px;height:25px"></div><div class="vb" style="left:642px;top:64px;height:25px"></div><div class="vb" style="left:696px;top:64px;height:25px"></div><div class="vb" style="left:582px;top:431px;height:15px"></div><div class="vb" style="left:642px;top:431px;height:15px"></div><div class="vb" style="left:696px;top:431px;height:15px"></div>
<div id="src" class="abs">Fonte: FENABRAVE - Elaboração: ANFAVEA</div>
</div></body></html>
